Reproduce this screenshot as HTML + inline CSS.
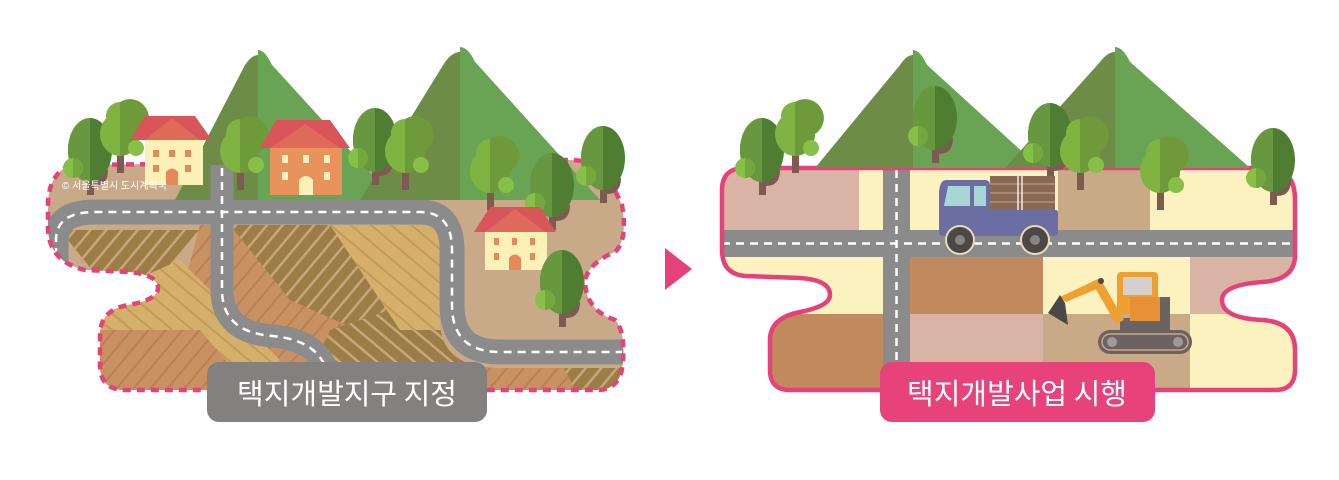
<!DOCTYPE html>
<html><head><meta charset="utf-8"><style>
html,body{margin:0;padding:0;background:#fff;}
svg{display:block}
</style></head><body>
<svg width="1339" height="480" viewBox="0 0 1339 480" xmlns="http://www.w3.org/2000/svg">
<defs>
  <g id="tree">
    <path d="M-3 10 L4 10 L4 45 L-3 45 Z" fill="#7d5b52"/>
    <path d="M4 28 Q14 30 14 20 L18 20 Q18 36 4 36 Z" fill="#7d5b52"/>
    <ellipse cx="0" cy="0" rx="22" ry="32" fill="#4f7e33"/>
    <path d="M0 -32 A22 32 0 0 0 0 32 Z" fill="#67973f"/>
    <circle cx="-17" cy="18" r="10" fill="#86c046"/>
    <path d="M-17 8 A10 10 0 0 1 -17 28 Z" fill="#74a83c"/>
  </g>
  <g id="tree2">
    <path d="M-3 10 L4 10 L4 45 L-3 45 Z" fill="#7d5b52"/>
    <circle cx="0" cy="-12" r="14" fill="#7fb443"/>
    <ellipse cx="0" cy="6" rx="20" ry="22" fill="#7fb443"/>
    <path d="M0 -26 L0 28 A20 22 0 0 0 20 6 A14 14 0 0 0 0 -26Z" fill="#6f9a3a"/>
    <circle cx="16" cy="20" r="8" fill="#86c046"/>
  </g>
  <pattern id="pA" width="12" height="12" patternUnits="userSpaceOnUse" patternTransform="rotate(40)">
    <rect width="12" height="12" fill="#9c7d45"/><rect width="2.5" height="12" fill="#c9a67a"/>
  </pattern>
  <pattern id="pB" width="13" height="13" patternUnits="userSpaceOnUse" patternTransform="rotate(40)">
    <rect width="13" height="13" fill="#c99062"/><rect width="2" height="13" fill="#b88058"/>
  </pattern>
  <pattern id="pC" width="13" height="13" patternUnits="userSpaceOnUse" patternTransform="rotate(-50)">
    <rect width="13" height="13" fill="#d4b06a"/><rect width="2" height="13" fill="#c39a5c"/>
  </pattern>
  <pattern id="pD" width="12" height="12" patternUnits="userSpaceOnUse" patternTransform="rotate(-50)">
    <rect width="12" height="12" fill="#9c7d45"/><rect width="2.5" height="12" fill="#c9a67a"/>
  </pattern>
  <clipPath id="cl">
    <path id="blobL" d="M70 165 L570 160 Q600 160 610 180 L622 205 Q628 240 615 252 Q590 262 585 280 Q585 310 615 320 Q625 330 623 360 Q622 388 600 390 L125 390 Q100 390 100 365 L100 335 Q100 310 128 305 Q158 300 158 288 Q158 275 130 272 L85 270 Q50 262 48 230 L48 205 Q48 175 70 165 Z"/>
  </clipPath>
  <clipPath id="cf">
    <path d="M40 222 L440 222 L440 320 Q440 368 500 368 L630 368 L630 400 L40 400 Z"/>
  </clipPath>
  <clipPath id="cr">
    <path d="M745 168 L1270 168 Q1295 170 1295 200 L1295 255 Q1295 280 1262 282 Q1222 285 1222 300 Q1222 318 1262 320 Q1295 322 1295 350 L1295 370 Q1295 390 1275 390 L790 390 Q770 390 770 370 L770 340 Q770 318 800 312 Q830 306 830 295 Q830 280 800 278 L745 276 Q722 274 722 250 L722 190 Q722 168 745 168 Z"/>
  </clipPath>
</defs>

<!-- LEFT PANEL -->
<g clip-path="url(#cl)">
  <rect x="40" y="140" width="600" height="260" fill="#c8a988"/>
  <g clip-path="url(#cf)">
  <polygon points="60,230 200,230 140,300 100,280" fill="url(#pA)"/>
  <polygon points="200,225 330,225 420,330 320,400 180,300" fill="url(#pB)"/>
  <polygon points="90,300 180,260 280,360 250,400 90,400" fill="url(#pC)"/>
  <polygon points="100,330 200,330 260,400 100,400" fill="url(#pB)"/>
  <polygon points="230,225 420,225 450,300 380,340 290,300" fill="url(#pA)"/>
  <polygon points="330,330 420,300 500,370 470,400 300,400" fill="url(#pD)"/>
  <polygon points="330,225 445,225 445,330 400,330" fill="url(#pC)"/>
  <polygon points="470,360 560,360 600,400 440,400" fill="url(#pB)"/>
  <polygon points="560,360 630,360 630,400 580,400" fill="url(#pA)"/>
  </g>
  <g fill="none">
  <path d="M56 275 L56 240 Q56 212 95 212 L420 212 Q452 212 452 250 L452 305 Q452 352 500 352 L630 352" stroke="#8c8b8b" stroke-width="25"/>
  <path d="M222 165 L222 290 Q222 332 272 336 Q320 340 328 375" stroke="#8c8b8b" stroke-width="23"/>
  <path d="M56 270 L56 240 Q56 212 95 212 L420 212 Q452 212 452 250 L452 305 Q452 352 500 352 L622 352" stroke="#fff" stroke-width="2.5" stroke-dasharray="8 6"/>
  <path d="M222 168 L222 290 Q222 332 272 336 Q320 340 328 375" stroke="#fff" stroke-width="2.5" stroke-dasharray="8 6"/>
  </g>
</g>
<use href="#blobL" fill="none" stroke="#e5417b" stroke-width="4.5" stroke-dasharray="8 6"/>
<!-- mountains left -->
<path d="M175 200 L245 65 Q258 45 272 65 L395 200 Z" fill="#6c8c47"/>
<path d="M258 50 Q265 50 272 65 L395 200 L258 200 Z" fill="#69a454"/>
<path d="M360 200 L445 62 Q460 42 475 62 L600 200 Z" fill="#6c8c47"/>
<path d="M460 47 Q468 47 475 62 L600 200 L460 200 Z" fill="#69a454"/>
<g fill="none">
  <path d="M222 165 L222 200" stroke="#8c8b8b" stroke-width="23"/>
  <path d="M222 168 L222 200" stroke="#fff" stroke-width="2.5" stroke-dasharray="8 6"/>
</g>
<!-- trees and houses left -->
<use href="#tree" x="90" y="150"/>
<use href="#tree2" x="120" y="128"/>
<g>
  <rect x="145" y="140" width="58" height="45" fill="#fbf0b6"/>
  <polygon points="130,140 145,116 195,116 212,140" fill="#d8555a"/>
  <polygon points="145,140 172,118 200,140" fill="#e06a5a"/>
  <rect x="153" y="150" width="6" height="7" fill="#e48a5a"/><rect x="169" y="150" width="6" height="7" fill="#e48a5a"/><rect x="185" y="150" width="6" height="7" fill="#e48a5a"/>
  <rect x="153" y="165" width="6" height="7" fill="#e48a5a"/><rect x="185" y="165" width="6" height="7" fill="#e48a5a"/>
  <path d="M166 185 L166 172 Q172 165 178 172 L178 185Z" fill="#e48a5a"/>
</g>
<use href="#tree2" x="240" y="145"/>
<g>
  <rect x="270" y="145" width="72" height="50" fill="#e8935e"/>
  <polygon points="260,148 276,120 330,120 350,148" fill="#d8555a"/>
  <polygon points="270,148 305,124 340,148" fill="#e06a5a"/>
  <rect x="282" y="155" width="6" height="8" fill="#fbf0b6"/><rect x="303" y="155" width="6" height="8" fill="#fbf0b6"/><rect x="324" y="155" width="6" height="8" fill="#fbf0b6"/>
  <rect x="282" y="172" width="6" height="8" fill="#fbf0b6"/><rect x="324" y="172" width="6" height="8" fill="#fbf0b6"/>
  <path d="M299 195 L299 180 Q306 172 313 180 L313 195Z" fill="#fbf0b6"/>
</g>
<use href="#tree" x="375" y="140"/>
<use href="#tree2" x="405" y="145"/>
<use href="#tree2" x="490" y="165"/>
<use href="#tree" x="552" y="185"/>
<use href="#tree" x="603" y="158"/>
<g>
  <rect x="485" y="230" width="62" height="40" fill="#fbf0b6"/>
  <polygon points="474,232 490,207 540,207 556,232" fill="#d8555a"/>
  <polygon points="485,232 515,209 545,232" fill="#e06a5a"/>
  <rect x="494" y="238" width="5" height="7" fill="#e48a5a"/><rect x="512" y="238" width="5" height="7" fill="#e48a5a"/><rect x="530" y="238" width="5" height="7" fill="#e48a5a"/>
  <rect x="494" y="253" width="5" height="7" fill="#e48a5a"/><rect x="530" y="253" width="5" height="7" fill="#e48a5a"/>
  <path d="M509 270 L509 258 Q515 251 521 258 L521 270Z" fill="#e48a5a"/>
</g>
<use href="#tree" x="562" y="282"/>
<text x="62" y="189" font-family="Liberation Sans,'Noto Sans CJK KR',sans-serif" font-size="10" fill="#fff">© 서울특별시 도시계획국</text>

<rect x="207" y="362" width="280" height="60" rx="12" fill="#858080"/>
<text x="347" y="404" text-anchor="middle" font-family="'Noto Sans CJK KR',sans-serif" font-size="29" fill="#fff">택지개발지구 지정</text>

<!-- arrow -->
<polygon points="665,248 692,269 665,290" fill="#e5417b"/>

<!-- RIGHT PANEL -->
<g clip-path="url(#cr)">
  <rect x="715" y="160" width="590" height="240" fill="#fbf2c0"/>
  <rect x="715" y="160" width="144" height="72" fill="#d9b4a4"/>
  <rect x="1058" y="160" width="92" height="72" fill="#c9aa86"/>
  <rect x="910" y="256" width="133" height="58" fill="#c08a5e"/>
  <rect x="1190" y="256" width="110" height="58" fill="#d9b4a4"/>
  <rect x="715" y="314" width="168" height="90" fill="#c08a5e"/>
  <rect x="910" y="314" width="133" height="90" fill="#d9b4a4"/>
  <rect x="1043" y="314" width="147" height="90" fill="#c9aa86"/>
  <rect x="715" y="230" width="590" height="27" fill="#8c8b8b"/>
  <rect x="883" y="160" width="27" height="240" fill="#8c8b8b"/>
  <line x1="722" y1="243.5" x2="1295" y2="243.5" stroke="#fff" stroke-width="2.5" stroke-dasharray="8 6"/>
  <line x1="896.5" y1="170" x2="896.5" y2="390" stroke="#fff" stroke-width="2.5" stroke-dasharray="8 6"/>
</g>
<path d="M745 168 L1270 168 Q1295 170 1295 200 L1295 255 Q1295 280 1262 282 Q1222 285 1222 300 Q1222 318 1262 320 Q1295 322 1295 350 L1295 370 Q1295 390 1275 390 L790 390 Q770 390 770 370 L770 340 Q770 318 800 312 Q830 306 830 295 Q830 280 800 278 L745 276 Q722 274 722 250 L722 190 Q722 168 745 168 Z" fill="none" stroke="#e5417b" stroke-width="4.5"/>
<!-- mountains right -->
<path d="M815 168 L900 65 Q913 45 927 65 L1040 168 Z" fill="#6c8c47"/>
<path d="M913 50 Q920 50 927 65 L1040 168 L913 168 Z" fill="#69a454"/>
<path d="M1005 168 L1100 62 Q1115 42 1130 62 L1250 168 Z" fill="#6c8c47"/>
<path d="M1115 47 Q1123 47 1130 62 L1250 168 L1115 168 Z" fill="#69a454"/>
<use href="#tree" x="762" y="150"/>
<use href="#tree2" x="795" y="128"/>
<use href="#tree" x="935" y="118"/>
<use href="#tree" x="1050" y="135"/>
<use href="#tree2" x="1080" y="145"/>
<use href="#tree2" x="1160" y="165"/>
<use href="#tree" x="1273" y="160"/>
<!-- truck -->
<g>
  <rect x="990" y="176" width="65" height="36" fill="#8a6856"/>
  <g stroke="#a98674" stroke-width="2"><line x1="990" y1="184" x2="1055" y2="184"/><line x1="990" y1="193" x2="1055" y2="193"/><line x1="990" y1="202" x2="1055" y2="202"/></g>
  <line x1="1018" y1="176" x2="1018" y2="212" stroke="#f3e9e0" stroke-width="1.5"/><line x1="1022" y1="176" x2="1022" y2="212" stroke="#f3e9e0" stroke-width="1.5"/>
  <path d="M946 180 L985 180 Q990 180 990 186 L990 210 L1056 210 Q1058 210 1058 214 L1058 232 Q1058 236 1054 236 L944 236 Q939 236 939 232 L939 192 Q940 180 946 180 Z" fill="#6b6ea2"/>
  <path d="M948 186 L970 186 L970 206 L944 206 Z" fill="#a8d6d2"/>
  <rect x="974" y="186" width="12" height="20" fill="#a8d6d2"/>
  <circle cx="960" cy="240" r="15" fill="#e9dcb0"/><circle cx="960" cy="240" r="13" fill="#4d4848"/><circle cx="960" cy="240" r="5" fill="#8a8585"/>
  <circle cx="1035" cy="240" r="15" fill="#e9dcb0"/><circle cx="1035" cy="240" r="13" fill="#4d4848"/><circle cx="1035" cy="240" r="5" fill="#8a8585"/>
</g>
<!-- excavator -->
<g>
  <rect x="1098" y="330" width="94" height="24" rx="12" fill="#6b6362"/>
  <rect x="1102" y="334" width="86" height="16" rx="8" fill="none" stroke="#c9a886" stroke-width="1.5"/>
  <circle cx="1112" cy="342" r="5" fill="#a09a99"/><circle cx="1178" cy="342" r="5" fill="#a09a99"/>
  <rect x="1120" y="318" width="50" height="12" fill="#6b6362"/>
  <rect x="1117" y="272" width="41" height="42" rx="4" fill="#f0a030"/>
  <rect x="1123" y="277" width="29" height="18" fill="#d5d0cd"/>
  <rect x="1130" y="297" width="36" height="24" fill="#e89035"/>
  <rect x="1160" y="297" width="10" height="24" fill="#6b6362"/>
  <polygon points="1060,297 1100,278 1104,286 1066,302" fill="#f0a030"/>
  <polygon points="1100,278 1124,320 1116,324 1094,286" fill="#f0a030"/>
  <circle cx="1101" cy="281" r="3" fill="#4d4848"/>
  <polygon points="1060,295 1048,313 1068,325 1065,303" fill="#4d4848"/>
</g>
<rect x="880" y="362" width="275" height="60" rx="12" fill="#e8427b"/>
<text x="1017" y="404" text-anchor="middle" font-family="'Noto Sans CJK KR',sans-serif" font-size="29" fill="#fff">택지개발사업 시행</text>
</svg>
</body></html>
